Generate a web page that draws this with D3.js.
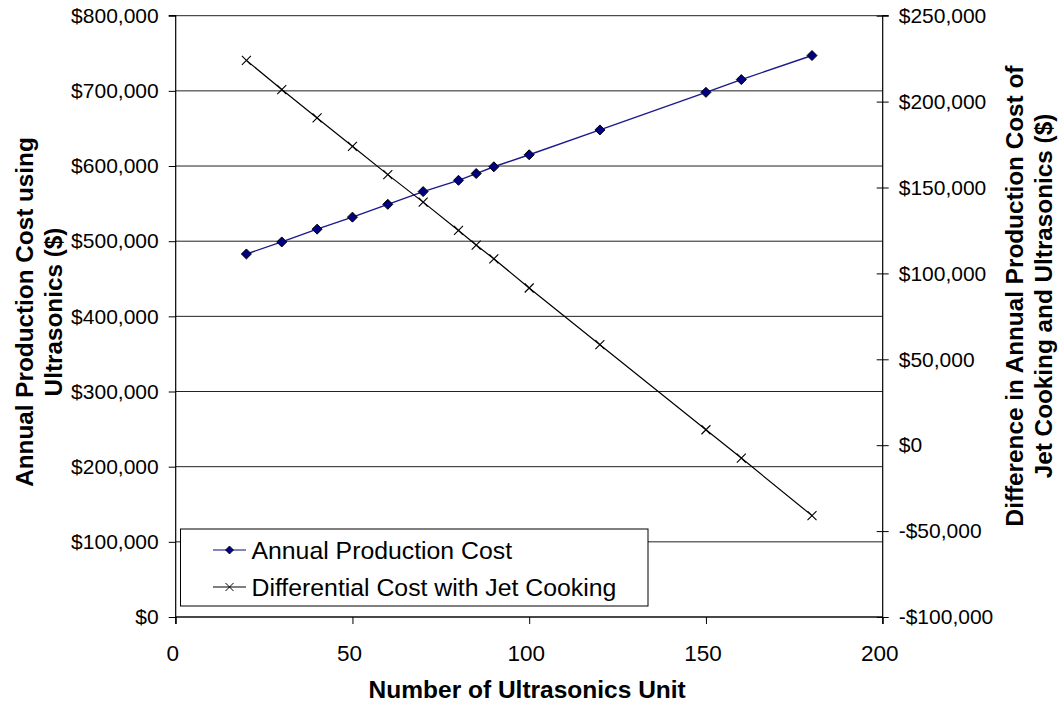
<!DOCTYPE html>
<html>
<head>
<meta charset="utf-8">
<script src="https://cdn.jsdelivr.net/npm/d3@7"></script>
<style>
  html, body { margin: 0; padding: 0; background: #fff; }
  svg { display: block; font-family: "Liberation Sans", Arial, sans-serif; }
</style>
</head>
<body>
<svg id="chart" width="1063" height="704"></svg>
<script>
// Number of ultrasonics units evaluated
const units = [20, 30, 40, 50, 60, 70, 80, 85, 90, 100, 120, 150, 160, 180];
// Annual production cost using ultrasonics ($) – left axis
const productionCost = [483000, 499000, 516000, 532000, 549000, 566000, 581000, 590000, 599000, 615000, 648000, 698000, 715000, 747000];
// Difference in annual cost, jet cooking minus ultrasonics ($) – right axis
const differentialCost = [224000, 207000, 190500, 174000, 157500, 141500, 125000, 116500, 108500, 91500, 58500, 9000, -7500, -41000];

const xTicks = [0, 50, 100, 150, 200];
const leftTicks = [0, 100000, 200000, 300000, 400000, 500000, 600000, 700000, 800000];
const rightTicks = [-100000, -50000, 0, 50000, 100000, 150000, 200000, 250000];

const seriesNames = ["Annual Production Cost", "Differential Cost with Jet Cooking"];
const xTitle = "Number of Ultrasonics Unit";
const leftTitle = ["Annual Production Cost using", "Ultrasonics ($)"];
const rightTitle = ["Difference in Annual Production Cost of", "Jet Cooking and Ultrasonics ($)"];

const svg = d3.select("#chart");
const plot = { left: 175.7, right: 882.7, top: 15.7, bottom: 617 };

const x = d3.scaleLinear().domain([0, 200]).range([plot.left, plot.right]);
const yL = d3.scaleLinear().domain([0, 800000]).range([plot.bottom, plot.top]);
const yR = d3.scaleLinear().domain([-100000, 250000]).range([plot.bottom, plot.top]);

const money = v => (v < 0 ? "-$" : "$") + d3.format(",")(Math.abs(v));

// horizontal gridlines at the left-axis ticks
svg.append("g")
  .selectAll("line")
  .data(leftTicks)
  .join("line")
  .attr("x1", plot.left).attr("x2", plot.right)
  .attr("y1", d => yL(d)).attr("y2", d => yL(d))
  .attr("stroke", "#222").attr("stroke-width", 1);

// left axis
const axL = svg.append("g")
  .attr("transform", `translate(${plot.left},0)`)
  .call(d3.axisLeft(yL).tickValues(leftTicks).tickFormat(money).tickSize(7).tickPadding(10));
// right axis (ticks cross the line)
const axR = svg.append("g")
  .attr("transform", `translate(${plot.right},0)`)
  .call(d3.axisRight(yR).tickValues(rightTicks).tickFormat(money).tickSize(6).tickPadding(10));
axR.selectAll(".tick line").attr("x1", -6);
// bottom axis
const axB = svg.append("g")
  .attr("transform", `translate(0,${plot.bottom})`)
  .call(d3.axisBottom(x).tickValues(xTicks).tickSize(7).tickPadding(21));

[axL, axR, axB].forEach(ax => {
  ax.select(".domain").attr("stroke", "#000").attr("stroke-width", 1.2);
  ax.selectAll(".tick line").attr("stroke", "#000");
  ax.selectAll(".tick text")
    .attr("fill", "#000")
    .style("font-family", '"Liberation Sans", Arial, sans-serif');
});
axL.select(".domain").attr("d", `M-7,${plot.top}H0V${plot.bottom + 7}`);
axR.select(".domain").attr("d", `M6,${plot.top}H0V${plot.bottom + 7}`);
axB.select(".domain").attr("d", `M${plot.left},0H${plot.right}`);
axL.selectAll(".tick text").style("font-size", "21px");
axR.selectAll(".tick text").style("font-size", "21px");
axB.selectAll(".tick text").style("font-size", "22.5px").attr("dx", -3.5);

// series lines
const line1 = d3.line().x((d, i) => x(units[i])).y(d => yL(d));
const line2 = d3.line().x((d, i) => x(units[i])).y(d => yR(d));

svg.append("path").datum(productionCost)
  .attr("d", line1).attr("fill", "none").attr("stroke", "#1a1a8c").attr("stroke-width", 1.4);
svg.append("path").datum(differentialCost)
  .attr("d", line2).attr("fill", "none").attr("stroke", "#000").attr("stroke-width", 1.2);

// diamond markers
const diamond = (cx, cy, r) => `M${cx},${cy - r}L${cx + r},${cy}L${cx},${cy + r}L${cx - r},${cy}Z`;
svg.append("g").selectAll("path")
  .data(productionCost)
  .join("path")
  .attr("d", (d, i) => diamond(x(units[i]), yL(d), 5))
  .attr("fill", "#000080").attr("stroke", "#000").attr("stroke-width", 1);

// x markers
const cross = (cx, cy, r) => `M${cx - r},${cy - r}L${cx + r},${cy + r}M${cx - r},${cy + r}L${cx + r},${cy - r}`;
svg.append("g").selectAll("path")
  .data(differentialCost)
  .join("path")
  .attr("d", (d, i) => cross(x(units[i]), yR(d), 4.5))
  .attr("fill", "none").attr("stroke", "#000").attr("stroke-width", 1.1);

// legend
const lg = svg.append("g");
lg.append("rect")
  .attr("x", 180.5).attr("y", 529).attr("width", 467.5).attr("height", 77)
  .attr("fill", "#fff").attr("stroke", "#000").attr("stroke-width", 1);
const rows = [550, 587];
lg.append("line").attr("x1", 213).attr("x2", 246).attr("y1", rows[0]).attr("y2", rows[0])
  .attr("stroke", "#5a5ab0").attr("stroke-width", 1.4);
lg.append("path").attr("d", diamond(229.5, rows[0], 4))
  .attr("fill", "#000080").attr("stroke", "#000").attr("stroke-width", 0.8);
lg.append("line").attr("x1", 213).attr("x2", 246).attr("y1", rows[1]).attr("y2", rows[1])
  .attr("stroke", "#000").attr("stroke-width", 1.1);
lg.append("path").attr("d", cross(229.5, rows[1], 4))
  .attr("fill", "none").attr("stroke", "#000").attr("stroke-width", 1);
lg.selectAll("text.leg")
  .data(seriesNames)
  .join("text")
  .attr("class", "leg")
  .attr("x", 251.5).attr("y", (d, i) => rows[i])
  .attr("dy", "0.36em")
  .style("font-size", "24.8px")
  .attr("fill", "#000")
  .text(d => d);

// axis titles
svg.append("text")
  .attr("x", (plot.left + plot.right) / 2 - 2).attr("y", 698)
  .attr("text-anchor", "middle")
  .style("font-size", "24.5px").style("font-weight", "bold")
  .text(xTitle);

svg.append("g").attr("transform", "rotate(-90)")
  .selectAll("text")
  .data(leftTitle)
  .join("text")
  .attr("x", -312).attr("y", (d, i) => 33 + i * 28.5)
  .attr("text-anchor", "middle")
  .style("font-size", "24.3px").style("font-weight", "bold")
  .text(d => d);

svg.append("g").attr("transform", "rotate(-90)")
  .selectAll("text")
  .data(rightTitle)
  .join("text")
  .attr("x", -296).attr("y", (d, i) => 1023 + i * 29)
  .attr("text-anchor", "middle")
  .style("font-size", "24.3px").style("font-weight", "bold")
  .text(d => d);
</script>
</body>
</html>
